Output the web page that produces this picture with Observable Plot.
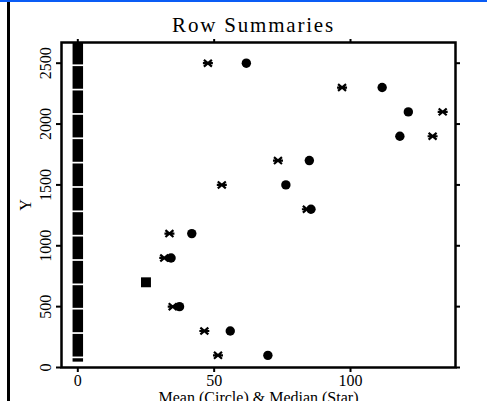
<!DOCTYPE html>
<html>
<head>
<meta charset="utf-8">
<script src="https://cdn.jsdelivr.net/npm/d3@7"></script>
<script src="https://cdn.jsdelivr.net/npm/@observablehq/plot@0.6"></script>
<style>
  html, body { margin: 0; padding: 0; background: #fff; width: 487px; height: 401px; overflow: hidden; }
  #chart { position: absolute; left: 0; top: 0; }
  #topbar { position: absolute; left: 0; top: 0; width: 487px; height: 2px; background: #0a5cf5; }
  #leftline { position: absolute; left: 7px; top: 2px; width: 3px; height: 399px; background: #000; }
  .chart-title text { letter-spacing: 1.8px; }
</style>
</head>
<body>
<div id="chart"></div>
<div id="topbar"></div>
<div id="leftline"></div>
<script>
// Row summaries: Y level of each row, its mean (circle) and median (star)
const rowY    = [100, 300, 500, 700, 900, 1100, 1300, 1500, 1700, 1900, 2100, 2300, 2500];
const meanX   = [69.7, 55.9, 37.3, 25, 34.2, 41.8, 85.5, 76.3, 84.9, 118.1, 121.2, 111.6, 61.8];
const medianX = [51.4, 46.4, 34.8, 25, 31.7, 33.6, 84.0, 52.8, 73.4, 130.1, 133.8, 96.9, 47.7];
// stacked square markers at X = 0 (runs of Y)
const colLow  = [44, 86, 286, 486, 686, 886, 1086, 1286, 1486, 1686, 1886, 2086, 2286, 2486];
const colHigh = [72, 272, 472, 672, 872, 1072, 1272, 1472, 1672, 1872, 2072, 2272, 2472, 2670];
const xTicks = [0, 50, 100];
const yTicks = [0, 500, 1000, 1500, 2000, 2500];
const title = "Row Summaries";
const xLabel = "Mean (Circle) & Median (Star)";
const yLabel = "Y";

const rows = rowY.map((y, i) => ({y, mean: meanX[i], median: medianX[i]}));
const cols = colLow.map((lo, i) => ({lo, hi: colHigh[i]}));

const star = {
  draw(ctx, size) {
    const r = Math.sqrt(size / Math.PI);
    const a = r * 0.8;
    ctx.moveTo(-r, 0); ctx.lineTo(r, 0);
    ctx.moveTo(-a, -a * 0.85); ctx.lineTo(a, a * 0.85);
    ctx.moveTo(-a, a * 0.85); ctx.lineTo(a, -a * 0.85);
  }
};

const font = "'Liberation Serif', 'DejaVu Serif', serif";

const chart = Plot.plot({
  width: 487,
  height: 401,
  marginLeft: 61,
  marginRight: 32,
  marginTop: 42,
  marginBottom: 34,
  style: {fontFamily: font, background: "white", color: "black"},
  x: {domain: [-5.98, 138.5]},
  y: {domain: [0, 2670]},
  marks: [
    Plot.ruleX(cols, {x: 0, y1: "lo", y2: "hi", stroke: "black", strokeWidth: 10.5}),
    Plot.dot(rows.filter(d => d.mean !== d.median), {x: "mean", y: "y", symbol: "circle", r: 4.7, fill: "black"}),
    Plot.dot(rows.filter(d => d.mean !== d.median), {x: "median", y: "y", symbol: star, r: 5, fill: "none", stroke: "black", strokeWidth: 2.2}),
    Plot.dot(rows.filter(d => d.mean === d.median), {x: "mean", y: "y", symbol: "square", r: 5.6, fill: "black"}),
    Plot.frame({stroke: "black", strokeWidth: 2.5}),
    Plot.axisX({anchor: "bottom", ticks: xTicks, tickSize: 5, strokeWidth: 2, tickPadding: 2, fontSize: 16, tickFormat: d => String(d), label: xLabel, labelAnchor: "center", labelOffset: 35, labelArrow: "none"}),
    Plot.axisX({anchor: "top", ticks: xTicks, tickSize: 4, strokeWidth: 2, tickFormat: () => "", label: null}),
    Plot.axisY({anchor: "left", ticks: yTicks, tickSize: 5, strokeWidth: 2, tickRotate: -90, tickPadding: 6, fontSize: 16, tickFormat: d => String(d), label: yLabel, labelAnchor: "center", labelOffset: 42, labelArrow: "none"}),
    Plot.axisY({anchor: "right", ticks: yTicks, tickSize: 4, strokeWidth: 2, tickFormat: () => "", label: null}),
    Plot.text([title], {frameAnchor: "top", dy: -17, dx: -5, fontSize: 21, fill: "black", lineAnchor: "middle", className: "chart-title"})
  ]
});
document.getElementById("chart").appendChild(chart);
</script>
</body>
</html>
